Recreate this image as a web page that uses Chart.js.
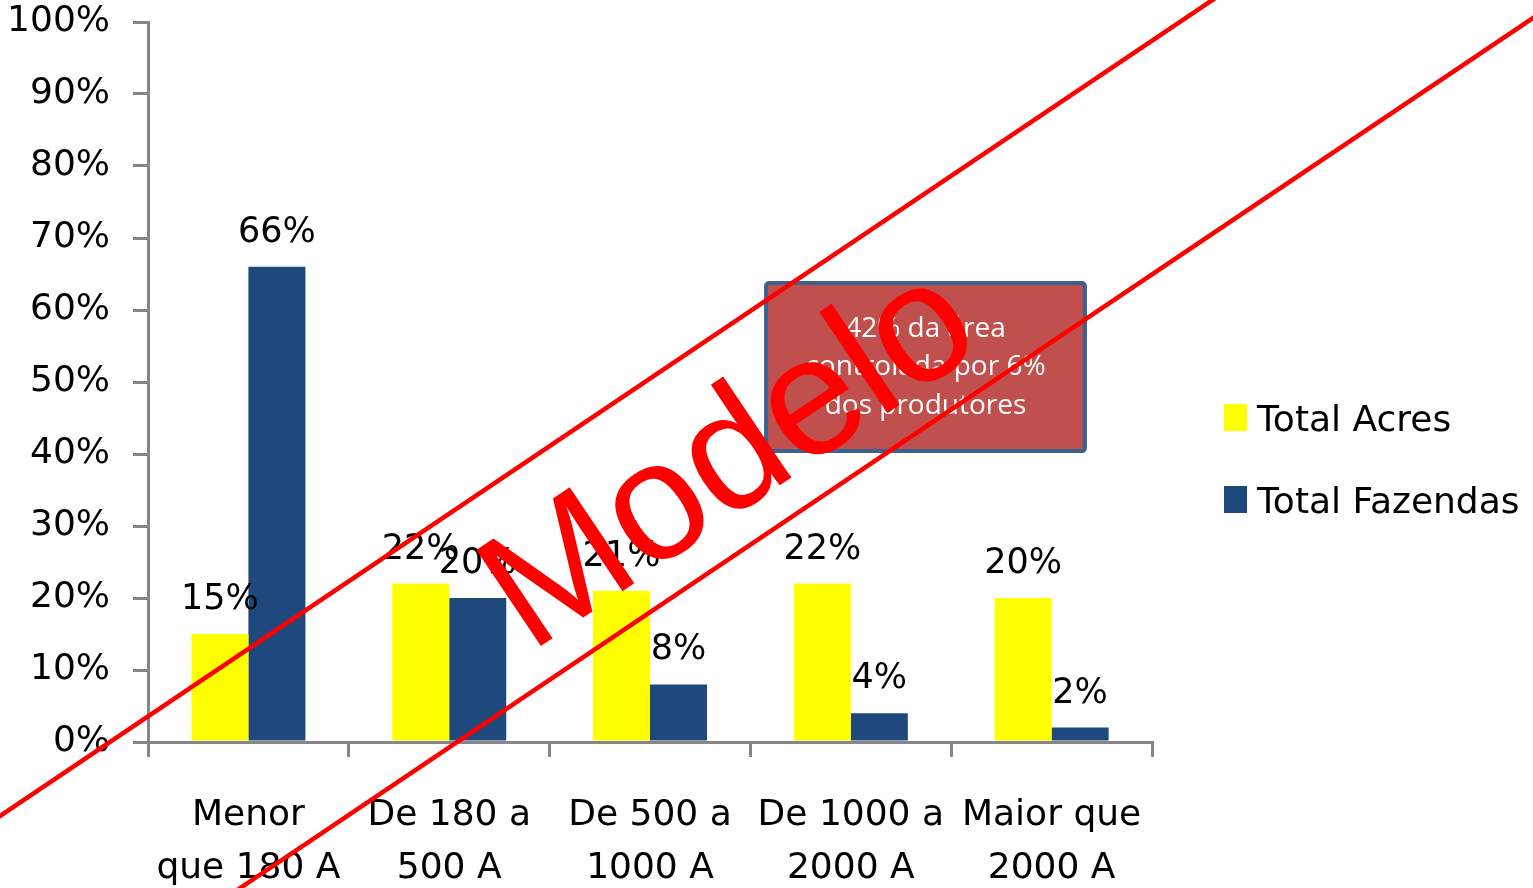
<!DOCTYPE html>
<html>
<head>
<meta charset="utf-8">
<script src="https://cdn.jsdelivr.net/npm/chart.js@4/dist/chart.umd.min.js"></script>
<style>
  html, body { margin: 0; padding: 0; background: #ffffff; }
  #wrap { width: 1533px; height: 888px; }
</style>
</head>
<body>
<div id="wrap"><canvas id="c" width="1533" height="888"></canvas></div>
<script>
// Farm size classes (acres) and share of totals, in percent
const categories = [
  ["Menor", "que 180 A"],
  ["De 180 a", "500 A"],
  ["De 500 a", "1000 A"],
  ["De 1000 a", "2000 A"],
  ["Maior que", "2000 A"]
];
const seriesNames = ["Total Acres", "Total Fazendas"];
const totalAcres = [15, 22, 21, 22, 20];
const totalFazendas = [66, 20, 8, 4, 2];
const yTickValues = [0, 10, 20, 30, 40, 50, 60, 70, 80, 90, 100];
const noteLines = ["42% da área", "controlada por 6%", "dos produtores"];
const watermarkText = "Modelo";

const AXIS_GREY = "#868686";
const FONT = "'DejaVu Sans', Verdana, sans-serif";

// Percent labels above each bar
const valueLabels = {
  id: "valueLabels",
  afterDatasetsDraw(chart) {
    const ctx = chart.ctx;
    ctx.save();
    ctx.font = "35px " + FONT;
    ctx.fillStyle = "#000000";
    ctx.textAlign = "center";
    ctx.textBaseline = "alphabetic";
    chart.data.datasets.forEach((ds, di) => {
      chart.getDatasetMeta(di).data.forEach((bar, i) => {
        ctx.fillText(ds.data[i] + "%", bar.x, bar.y - 25);
      });
    });
    ctx.restore();
  }
};

// Note box, legend and the "Modelo" stamp drawn on top
const overlay = {
  id: "overlay",
  afterDraw(chart) {
    const ctx = chart.ctx;
    const xs = chart.scales.x, ys = chart.scales.y;

    // note box, anchored in scale units
    const bx0 = xs.getPixelForValue(2.578), bx1 = xs.getPixelForValue(4.166);
    const by0 = ys.getPixelForValue(63.75), by1 = ys.getPixelForValue(40.4);
    ctx.save();
    ctx.beginPath();
    ctx.roundRect(bx0, by0, bx1 - bx0, by1 - by0, 3);
    ctx.fillStyle = "#C0504D";
    ctx.fill();
    ctx.lineWidth = 4;
    ctx.strokeStyle = "#3C6190";
    ctx.stroke();
    ctx.fillStyle = "#ffffff";
    ctx.font = "28px 'Open Sans', 'Noto Sans', sans-serif";
    ctx.textAlign = "center";
    ctx.textBaseline = "middle";
    const cx = (bx0 + bx1) / 2;
    const cy = (by0 + by1) / 2;
    noteLines.forEach((t, i) => {
      ctx.fillText(t, cx, cy + (i - 1) * 38.5);
    });
    ctx.restore();

    // legend
    ctx.save();
    ctx.font = "36px " + FONT;
    ctx.textAlign = "left";
    ctx.textBaseline = "alphabetic";
    chart.data.datasets.forEach((ds, i) => {
      const top = 404 + i * 82;
      ctx.fillStyle = ds.backgroundColor;
      ctx.fillRect(1224, top, 23, 27);
      ctx.fillStyle = "#000000";
      ctx.fillText(ds.label, 1257, top + 27);
    });
    ctx.restore();

    // stamp: two diagonal rules and the word between them
    const ang = Math.atan(0.673);
    ctx.save();
    ctx.strokeStyle = "#FF0000";
    ctx.lineWidth = 4.5;
    ctx.beginPath();
    ctx.moveTo(-50, 816 + 50 * 0.673);
    ctx.lineTo(1300, 816 - 1300 * 0.673);
    ctx.moveTo(150, 18 + 0.673 * (1533 - 150));
    ctx.lineTo(1600, 18 - 0.673 * 67);
    ctx.stroke();
    ctx.translate(758, 500);
    ctx.rotate(-ang);
    ctx.fillStyle = "#FF0000";
    ctx.font = "168px 'Liberation Sans', Arial, sans-serif";
    ctx.textAlign = "center";
    ctx.textBaseline = "alphabetic";
    ctx.fillText(watermarkText, 0, 0);
    ctx.restore();
  }
};

new Chart(document.getElementById("c"), {
  type: "bar",
  data: {
    labels: categories,
    datasets: [
      { label: seriesNames[0], data: totalAcres, backgroundColor: "#FFFF00" },
      { label: seriesNames[1], data: totalFazendas, backgroundColor: "#1F497D" }
    ]
  },
  options: {
    responsive: false,
    animation: false,
    devicePixelRatio: 1,
    layout: { padding: { top: 22, right: 381, bottom: 0, left: 0 } },
    datasets: { bar: { categoryPercentage: 0.568, barPercentage: 1.0 } },
    plugins: { legend: { display: false }, tooltip: { enabled: false } },
    scales: {
      x: {
        afterFit(s) { s.height = 146; s.paddingLeft = 0; s.paddingRight = 0; },
        border: { color: AXIS_GREY, width: 3 },
        grid: { offset: true, drawOnChartArea: false, drawTicks: true, tickLength: 15, color: AXIS_GREY, lineWidth: 3 },
        ticks: {
          color: "#000000",
          font: { family: FONT, size: 36, lineHeight: 1.47 },
          padding: 32,
          maxRotation: 0,
          autoSkip: false
        }
      },
      y: {
        min: 0,
        max: 100,
        afterFit(s) { s.width = 148; s.paddingTop = 0; s.paddingBottom = 0; },
        afterBuildTicks(s) { s.ticks = yTickValues.map(v => ({ value: v })); },
        border: { color: AXIS_GREY, width: 3 },
        grid: { drawOnChartArea: false, drawTicks: true, tickLength: 15, color: AXIS_GREY, lineWidth: 3 },
        ticks: {
          color: "#000000",
          font: { family: FONT, size: 36 },
          padding: 23,
          callback: v => v + "%"
        }
      }
    }
  },
  plugins: [valueLabels, overlay]
});
</script>
</body>
</html>
